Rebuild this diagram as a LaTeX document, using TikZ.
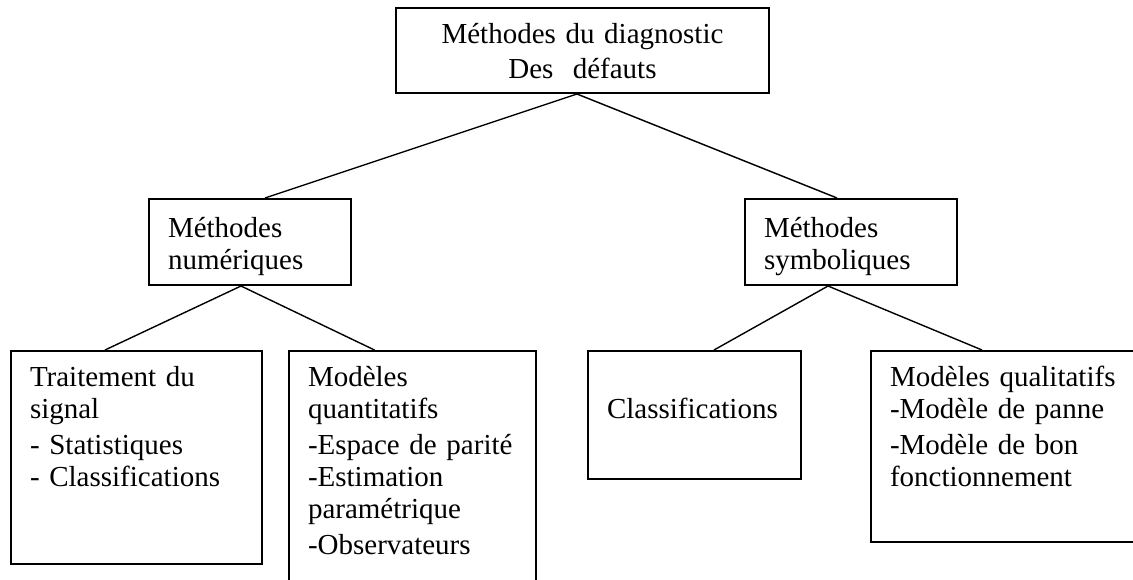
\documentclass[tikz,border=0pt]{standalone}
\usepackage{fontspec}
\setmainfont{Liberation Serif}
\usepackage{tikz}
\usetikzlibrary{calc}

\tikzset{
  box/.style={draw, line width=1pt, anchor=north west, inner xsep=9.5pt, inner ysep=0pt,
    align=left, font=\fontsize{14.5pt}{16pt}\selectfont},
  link/.style={line width=0.7pt}
}

\begin{document}
\begin{tikzpicture}[x=0.5pt, y=-0.5pt]
  \useasboundingbox (0,0) rectangle (1133,579);
  \clip (0,0) rectangle (1133,579);

  \node[box, align=center, text width=167.5pt, text height=17.5pt, text depth=25pt] (root) at (395,7)
    {Méthodes du diagnostic\\[1.5pt]Des\ \ défauts};

  \node[box, text width=82pt, text height=19pt, text depth=24pt] (numeric) at (148,198)
    {Méthodes\\numériques};
  \node[box, text width=87pt, text height=19pt, text depth=24pt] (symbolic) at (744,198)
    {Méthodes\\symboliques};

  \node[box, text width=106.5pt, text height=17.5pt, text depth=89pt] (signal) at (10,350)
    {Traitement du\\signal\\[2pt]- Statistiques\\- Classifications};
  \node[box, text width=104.5pt, text height=17.5pt, text depth=117.5pt] (quanti) at (288,350)
    {Modèles\\quantitatifs\\[2pt]-Espace de parité\\-Estimation\\paramétrique\\[2pt]-Observateurs};
  \node[box, text width=87.5pt, text height=33.5pt, text depth=30.5pt] (classif) at (587,350)
    {Classifications};
  \node[box, text width=126pt, text height=17.5pt, text depth=78pt] (quali) at (870,350)
    {Modèles qualitatifs\\-Modèle de panne\\[2pt]-Modèle de bon\\fonctionnement};

  \draw[link] ([xshift=-2.75pt]root.south) -- ([xshift=7.5pt]numeric.north);
  \draw[link] ([xshift=-2.75pt]root.south) -- ([xshift=-7pt]symbolic.north);
  \draw[link] ([xshift=-4.5pt]numeric.south) -- ([xshift=-15.75pt]signal.north);
  \draw[link] ([xshift=-4.5pt]numeric.south) -- ([xshift=-19pt]quanti.north);
  \draw[link] ([xshift=-11.5pt]symbolic.south) -- ([xshift=9.75pt]classif.north);
  \draw[link] ([xshift=-11.5pt]symbolic.south) -- ([xshift=56pt]quali.north west);
\end{tikzpicture}
\end{document}
